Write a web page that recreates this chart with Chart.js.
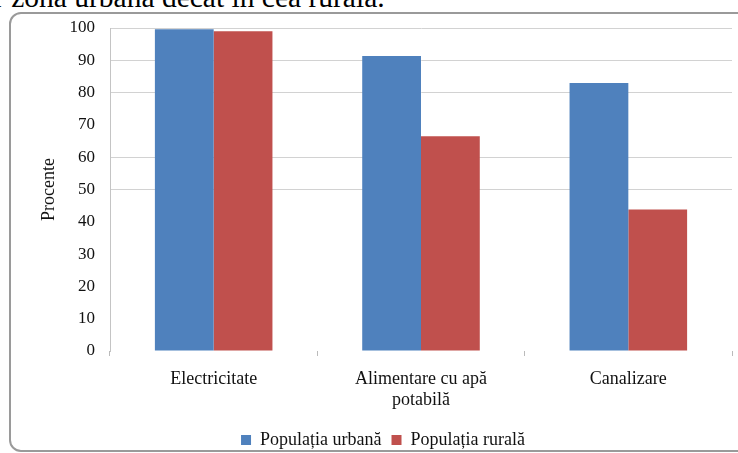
<!DOCTYPE html>
<html lang="ro">
<head>
    <meta charset="UTF-8">
    <title>Procente - populatia urbana si rurala</title>
    <script src="https://cdn.jsdelivr.net/npm/chart.js"></script>
    <style>
        body {
            margin: 0;
            padding: 0;
            width: 738px;
            height: 453px;
            overflow: hidden;
            background: #ffffff;
            position: relative;
            font-family: 'Liberation Serif', serif;
        }

        /* text cut off from the page above the chart */
        .top-text {
            position: absolute;
            left: -6px;
            top: -17px;
            font-size: 29.5px;
            line-height: 1;
            color: #000;
            white-space: nowrap;
        }

        .frame {
            position: absolute;
            left: 9px;
            top: 12px;
            width: 760px;
            height: 436px;
            border: 2px solid #9a9a9a;
            border-radius: 12px;
        }

        .chart-box {
            position: absolute;
            left: 0;
            top: 0;
            width: 738px;
            height: 453px;
        }
    </style>
</head>
<body>

    <div class="top-text">r zona urbană decât în cea rurală.</div>
    <div class="frame"></div>

    <div class="chart-box">
        <canvas id="serviciiChart" width="738" height="453"></canvas>
    </div>

    <script>
        // data
        const categories = ['Electricitate', ['Alimentare cu apă', 'potabilă'], 'Canalizare'];
        const urbana = [99.6, 91.3, 83.0];
        const rurala = [99.0, 66.5, 43.8];
        const seriesNames = ['Populația urbană', 'Populația rurală'];
        const yTicks = [0, 10, 20, 30, 40, 50, 60, 70, 80, 90, 100];
        const shownGrid = [50, 60, 80, 90, 100];  // only these lines show in the scan

        const serif = 'Liberation Serif';

        const ctx = document.getElementById('serviciiChart').getContext('2d');
        const chart = new Chart(ctx, {
            type: 'bar',
            data: {
                labels: categories,
                datasets: [{
                    label: seriesNames[0],
                    data: urbana,
                    backgroundColor: '#4F81BD',
                    categoryPercentage: 0.567,
                    barPercentage: 1.0
                }, {
                    label: seriesNames[1],
                    data: rurala,
                    backgroundColor: '#C0504D',
                    categoryPercentage: 0.567,
                    barPercentage: 1.0
                }]
            },
            options: {
                responsive: false,
                animation: false,
                layout: {
                    // negative bottom pushes the legend down to where the scan has it
                    padding: { left: 34, right: 6, top: 28, bottom: -6 }
                },
                plugins: {
                    legend: {
                        position: 'bottom',
                        labels: {
                            font: { family: serif, size: 18 },
                            color: '#111',
                            boxWidth: 10,
                            boxHeight: 10,
                            padding: 10
                        }
                    },
                    tooltip: { enabled: false }
                },
                scales: {
                    x: {
                        grid: {
                            offset: true,
                            drawOnChartArea: false,
                            drawTicks: true,
                            tickLength: 5,
                            color: '#bbbbbb'
                        },
                        border: { display: false },
                        ticks: {
                            font: { family: serif, size: 18, lineHeight: 1.17 },
                            color: '#111',
                            padding: 13,
                            maxRotation: 0
                        },
                        afterFit: function(scale) {
                            scale.height = 70;
                        }
                    },
                    y: {
                        min: 0,
                        max: 100,
                        afterBuildTicks: function(scale) {
                            scale.ticks = yTicks.map(v => ({ value: v }));
                        },
                        grid: {
                            drawTicks: false,
                            color: function(c) {
                                return shownGrid.includes(c.tick.value) ? '#d2d2d2' : 'rgba(0,0,0,0)';
                            }
                        },
                        border: { display: true, color: '#c4c4c4' },
                        ticks: {
                            font: { family: serif, size: 17 },
                            color: '#111',
                            padding: 15
                        },
                        title: {
                            display: true,
                            text: 'Procente',
                            font: { family: serif, size: 18 },
                            color: '#111'
                        },
                        afterFit: function(scale) {
                            scale.width = 76;
                        }
                    }
                }
            }
        });
    </script>

</body>
</html>
